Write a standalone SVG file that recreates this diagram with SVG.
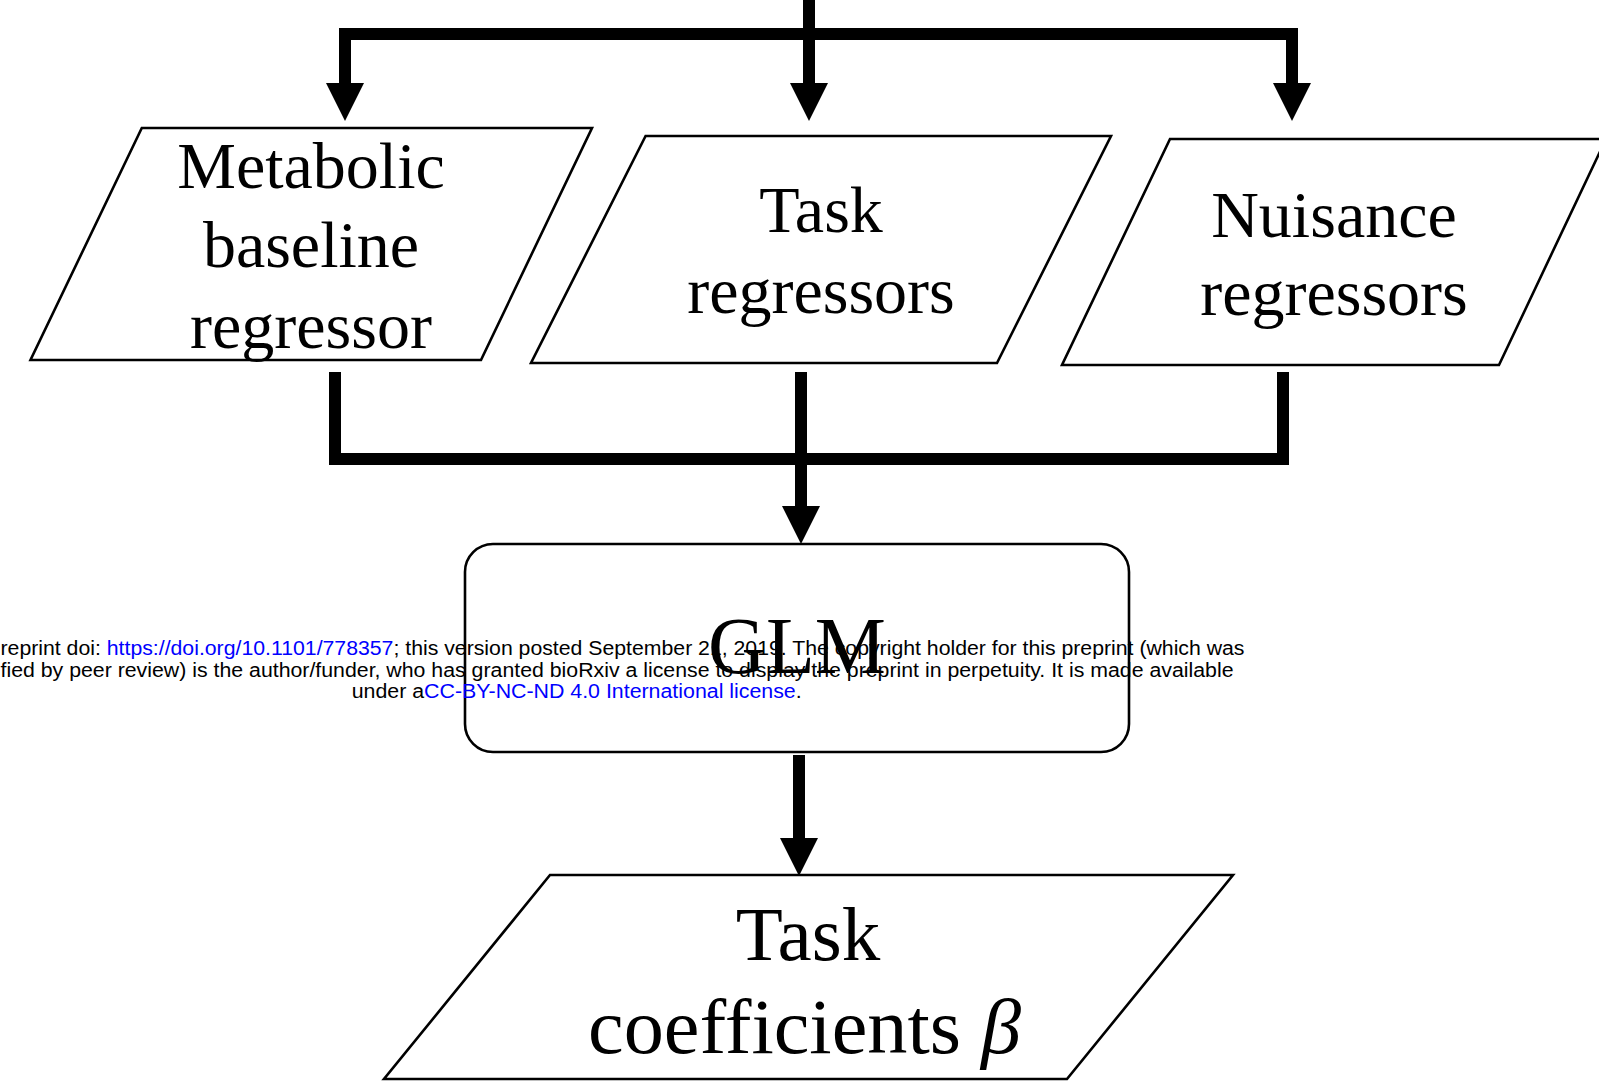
<svg xmlns="http://www.w3.org/2000/svg" width="1599" height="1081" viewBox="0 0 1599 1081">
<defs>
<style>
.shape{fill:#ffffff;stroke:#000000;stroke-width:2.6;stroke-linejoin:miter}
.lbl{font-family:"Liberation Serif","Times New Roman",serif;fill:#000000;text-anchor:middle}
.conn{fill:none;stroke:#000000;stroke-width:12;stroke-linejoin:miter;stroke-linecap:butt}
.wm{font-family:"Liberation Sans",Arial,sans-serif;font-size:19.5px;fill:#000000}
.link{fill:#0000ff}
</style>
<marker id="arr" markerUnits="userSpaceOnUse" markerWidth="38" markerHeight="38" viewBox="0 0 38 38" refX="0" refY="19" orient="auto">
<path d="M0,0 L38,19 L0,38 Z" fill="#000000"/>
</marker>
</defs>
<rect width="1599" height="1081" fill="#ffffff"/>

<g id="connectors">
<path class="conn" d="M809,0 V83" marker-end="url(#arr)"/>
<path class="conn" d="M809,34 H345 V83" marker-end="url(#arr)"/>
<path class="conn" d="M809,34 H1292 V83" marker-end="url(#arr)"/>
<path class="conn" d="M335,372 V459 H801"/>
<path class="conn" d="M1283,372 V459 H801"/>
<path class="conn" d="M801,372 V506" marker-end="url(#arr)"/>
<path class="conn" d="M799,755 V838" marker-end="url(#arr)"/>
</g>

<g id="metabolic">
<polygon class="shape" points="141.8,128 592,128 481,360 30.5,360"/>
<text class="lbl" font-size="66" x="311" y="188">Metabolic</text>
<text class="lbl" font-size="66" x="311" y="267">baseline</text>
<text class="lbl" font-size="66" x="311" y="348">regressor</text>
</g>

<g id="task">
<polygon class="shape" points="645.6,136 1111,136 997,363 531,363"/>
<text class="lbl" font-size="66" x="821" y="232">Task</text>
<text class="lbl" font-size="66" x="821" y="313">regressors</text>
</g>

<g id="nuisance">
<polygon class="shape" points="1170,139 1606,139 1499,365 1062,365"/>
<text class="lbl" font-size="66" x="1334" y="237">Nuisance</text>
<text class="lbl" font-size="66" x="1334" y="315">regressors</text>
</g>

<g id="glm">
<rect class="shape" x="465" y="544" width="664" height="208" rx="28" ry="28"/>
<text class="lbl" font-size="80" x="797" y="673">GLM</text>
</g>

<g id="coefficients">
<polygon class="shape" points="550,875 1233,875 1067,1079 384,1079"/>
<text class="lbl" font-size="77" x="808" y="960">Task</text>
<text class="lbl" font-size="78" x="588" y="1053" style="text-anchor:start" textLength="433" lengthAdjust="spacingAndGlyphs">coefficients <tspan font-style="italic">β</tspan></text>
</g>

<g id="watermark">
<text class="wm" x="0.5" y="655" textLength="1244" lengthAdjust="spacingAndGlyphs">reprint doi: <tspan class="link">https://doi.org/10.1101/778357</tspan>; this version posted September 21, 2019. The copyright holder for this preprint (which was</text>
<text class="wm" x="0.5" y="676.5" textLength="1233" lengthAdjust="spacingAndGlyphs">fied by peer review) is the author/funder, who has granted bioRxiv a license to display the preprint in perpetuity. It is made available</text>
<text class="wm" x="351.7" y="698" textLength="450" lengthAdjust="spacingAndGlyphs">under a<tspan class="link">CC-BY-NC-ND 4.0 International license</tspan>.</text>
</g>
</svg>
